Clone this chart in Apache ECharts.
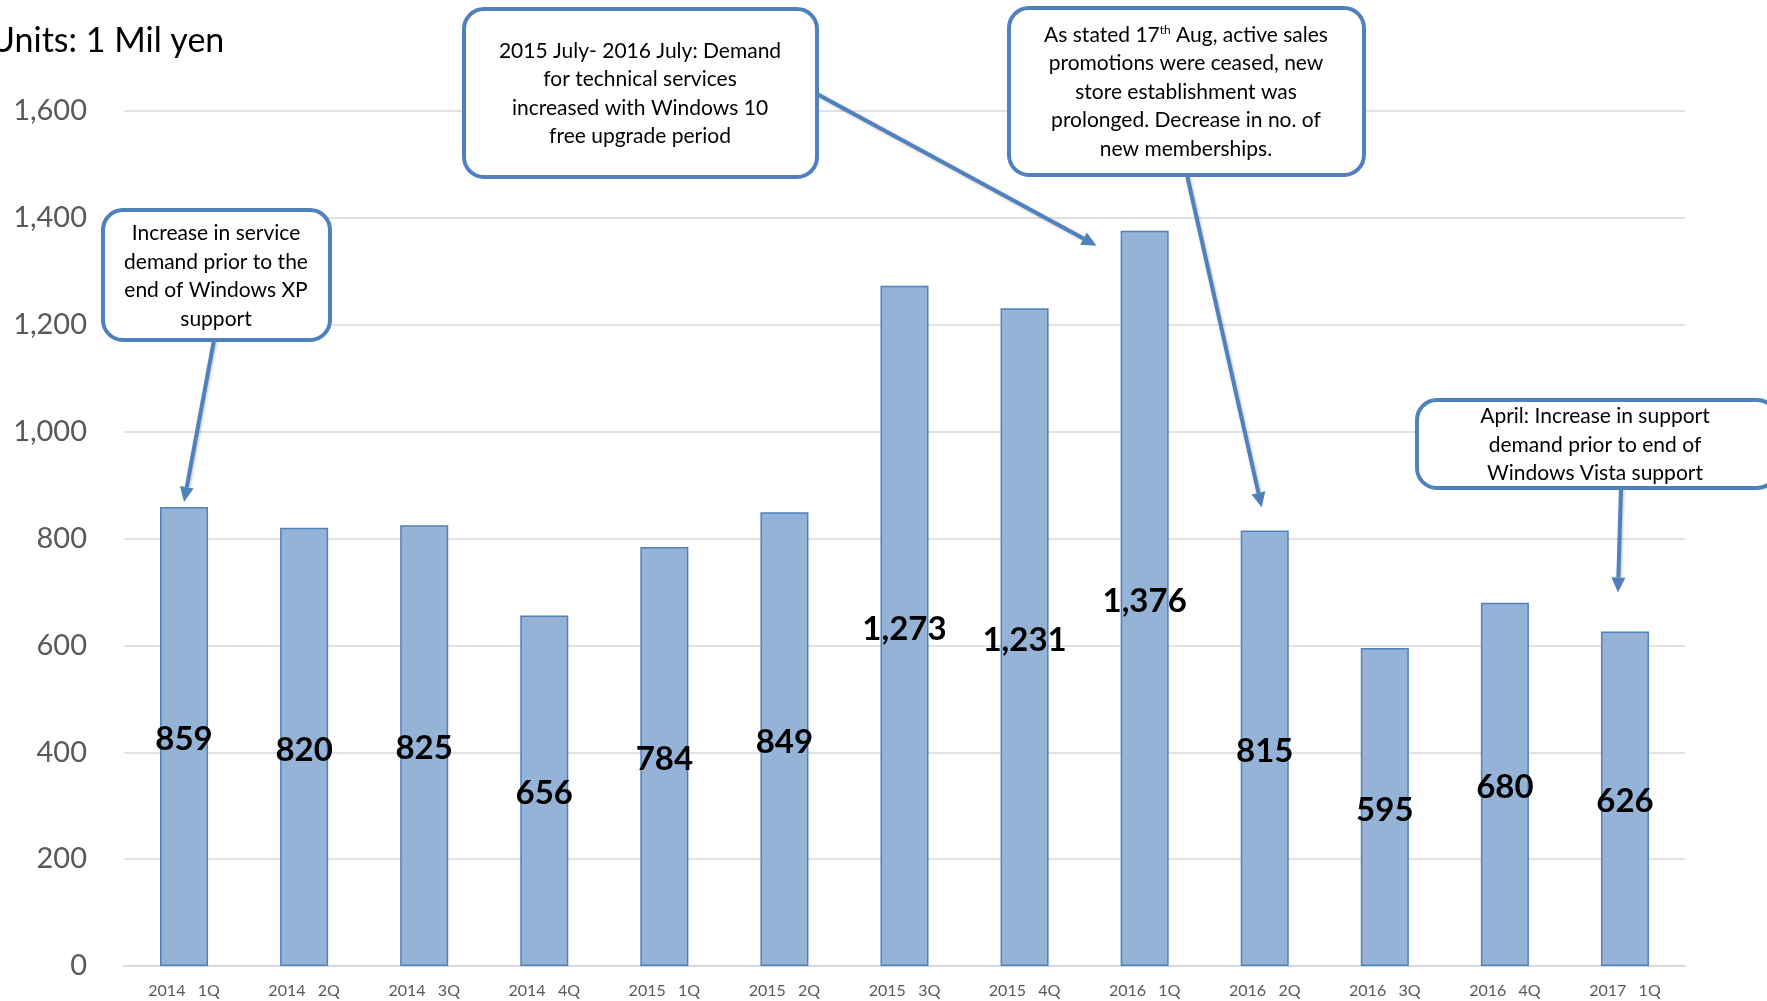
<!DOCTYPE html>
<html><head><meta charset="utf-8">
<script src="https://cdn.jsdelivr.net/npm/echarts@6/dist/echarts.min.js"></script>
<style>html,body{margin:0;padding:0;background:#fff}#c{width:1767px;height:1001px}</style>
</head><body><div id="c"></div>
<script>
// ---- data ----
const categories = ['2014   1Q','2014   2Q','2014   3Q','2014   4Q','2015   1Q','2015   2Q','2015   3Q','2015   4Q','2016   1Q','2016   2Q','2016   3Q','2016   4Q','2017   1Q'];
const sales = [859, 820, 825, 656, 784, 849, 1273, 1231, 1376, 815, 595, 680, 626];
const yMin = 0, yMax = 1600, yInterval = 200;
const unitsLabel = 'Units: 1 Mil yen';
const note1 = ['Increase in service', 'demand prior to the', 'end of Windows XP', 'support'];
const note2 = ['2015 July- 2016 July: Demand', 'for technical services', 'increased with Windows 10', 'free upgrade period'];
const note3 = ['As stated 17{sup|th} Aug, active sales', 'promotions were ceased, new', 'store establishment was', 'prolonged. Decrease in no. of', 'new memberships.'];
const note4 = ['April: Increase in support', 'demand prior to end of', 'Windows Vista support'];

// ---- layout of callouts (pixels) ----
const callouts = [
  {lines: note1, box: [103, 210, 227, 130], textX: 216, textY: 276, from: [214, 340], cat: 0, tipOff: [0, -5]},
  {lines: note2, box: [464, 9, 353, 168], textX: 640, textY: 93.5, from: [817, 94], cat: 8, tipOff: [-48, 15]},
  {lines: note3, box: [1009, 8, 355, 167], textX: 1186, textY: 92, from: [1187, 175], cat: 9, tipOff: [-3, -23]},
  {lines: note4, box: [1417, 400, 360, 88], textX: 1595, textY: 445, from: [1621, 488], cat: 12, tipOff: [-7, -39]}
];

const BLUE = '#4F81BD';
const FONT = 'Lato, "Open Sans", sans-serif';
const chart = echarts.init(document.getElementById('c'), null, {renderer: 'canvas'});

chart.setOption({
  animation: false,
  backgroundColor: '#fff',
  grid: {left: 124, right: 82, top: 111, bottom: 35, containLabel: false},
  xAxis: {
    type: 'category', data: categories,
    axisLine: {lineStyle: {color: '#D9D9D9', width: 2}},
    axisTick: {show: false},
    axisLabel: {color: '#595959', fontSize: 16, fontFamily: FONT, margin: 17}
  },
  yAxis: {
    type: 'value', min: yMin, max: yMax, interval: yInterval,
    axisLine: {show: false}, axisTick: {show: false},
    splitLine: {lineStyle: {color: '#D9D9D9', width: 1.5}},
    axisLabel: {color: '#595959', fontSize: 29, fontFamily: FONT, margin: 37,
      formatter: v => v.toLocaleString('en-US')}
  },
  series: [{
    type: 'bar', data: sales, barWidth: '40%',
    itemStyle: {color: '#95B3D7', borderColor: BLUE, borderWidth: 1.5},
    label: {show: true, position: 'inside', offset: [0, 3], color: '#000', fontWeight: 'bold',
      fontSize: 33, fontFamily: FONT, formatter: p => p.value.toLocaleString('en-US')},
    z: 2
  }]
});

const graphics = [{
  type: 'text', left: -10, top: 24, z: 10,
  style: {text: unitsLabel, fontSize: 34, fontFamily: FONT, fill: '#000'}
}];

callouts.forEach(c => {
  const [bx, by, bw, bh] = c.box;
  const p = chart.convertToPixel({seriesIndex: 0}, [c.cat, sales[c.cat]]);
  const tip = [p[0] + c.tipOff[0], p[1] + c.tipOff[1]];
  const dx = tip[0] - c.from[0], dy = tip[1] - c.from[1];
  const len = Math.sqrt(dx * dx + dy * dy);
  const ux = dx / len, uy = dy / len;
  const hl = 15, hw = 7;
  const base = [tip[0] - ux * hl, tip[1] - uy * hl];
  graphics.push({
    type: 'line', z: 20,
    shape: {x1: c.from[0], y1: c.from[1], x2: base[0], y2: base[1]},
    style: {stroke: BLUE, lineWidth: 4, shadowBlur: 3, shadowColor: 'rgba(0,0,0,0.25)', shadowOffsetX: 1, shadowOffsetY: 1}
  });
  graphics.push({
    type: 'polygon', z: 20,
    shape: {points: [tip, [base[0] - uy * hw, base[1] + ux * hw], [base[0] + uy * hw, base[1] - ux * hw]]},
    style: {fill: BLUE}
  });
  graphics.push({
    type: 'rect', z: 21,
    shape: {x: bx, y: by, width: bw, height: bh, r: 20},
    style: {fill: '#fff', stroke: BLUE, lineWidth: 4}
  });
  graphics.push({
    type: 'text', z: 22, x: c.textX, y: c.textY,
    style: {
      text: c.lines.join('\n'), fontSize: 21, fontFamily: FONT, fill: '#000',
      align: 'center', verticalAlign: 'middle', lineHeight: 28.5,
      rich: {sup: {fontSize: 12, fontFamily: FONT, fill: '#000', padding: [0, 0, 10, 0], lineHeight: 28.5}}
    }
  });
});
chart.setOption({graphic: graphics});
</script>
</body></html>
